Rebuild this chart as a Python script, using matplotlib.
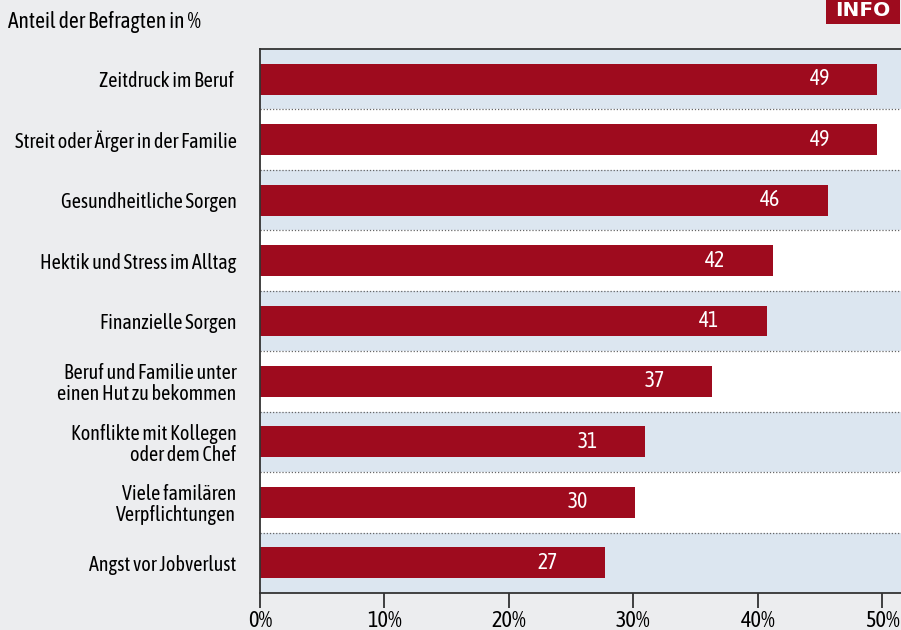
import matplotlib as mpl
import matplotlib.pyplot as plt
from matplotlib.patches import Rectangle

CATEGORIES = [
    "Zeitdruck im Beruf ",
    "Streit oder Ärger in der Familie",
    "Gesundheitliche Sorgen",
    "Hektik und Stress im Alltag",
    "Finanzielle Sorgen",
    "Beruf und Familie unter\neinen Hut zu bekommen",
    "Konflikte mit Kollegen\noder dem Chef",
    "Viele familären\nVerpflichtungen",
    "Angst vor Jobverlust",
]
BAR_VALUES = [49.6, 49.6, 45.6, 41.2, 40.7, 36.3, 30.9, 30.1, 27.7]
LABELS = ["49", "49", "46", "42", "41", "37", "31", "30", "27"]
XTICKS = [0, 10, 20, 30, 40, 50]
XTICK_LABELS = ["0%", "10%", "20%", "30%", "40%", "50%"]

RED = "#9e0b1e"
BAND = "#dce6f0"
BG = "#ecedef"

plt.rcParams['font.family'] = ['Asap Condensed', 'DejaVu Sans']

dpi = 100
fig = plt.figure(dpi=dpi, figsize=(901 / dpi, 630 / dpi), facecolor=BG)
ax = fig.add_axes([260 / 901, 37 / 630, 641 / 901, 544 / 630])
ax.set_facecolor("white")

n = len(CATEGORIES)
for i in range(n):
    if i % 2 == 0:
        ax.axhspan(i - 0.5, i + 0.5, color=BAND, zorder=0, lw=0)
for i in range(n - 1):
    ax.axhline(i + 0.5, color="#666666", lw=0.9, linestyle=(0, (1, 1.5)), zorder=1)

ys = list(range(n))
ax.barh(ys, BAR_VALUES, height=0.51, color=RED, zorder=2)
for y, v, lab in zip(ys, BAR_VALUES, LABELS):
    ax.text(v - 4.6, y, lab, color="white", fontsize=15.5, ha="center", va="center", zorder=3)

ax.set_xlim(0, 51.5)
ax.set_ylim(n - 0.5, -0.5)
ax.set_yticks(ys)
ax.set_yticklabels(CATEGORIES, fontsize=14.5, linespacing=1.05)
ax.tick_params(axis="y", length=0, pad=17)
ax.set_xticks(XTICKS)
ax.set_xticklabels(XTICK_LABELS, fontsize=16)
ax.tick_params(axis="x", length=11, width=1.2, color="#222222", pad=1)

for s in ["top", "left", "bottom"]:
    ax.spines[s].set_color("#333333")
    ax.spines[s].set_linewidth(1.3)
ax.spines["right"].set_visible(False)

fig.text(8 / 901, 1 - 22 / 630, "Anteil der Befragten in %", fontsize=15.5, ha="left", va="center")

# INFO badge
fig.patches.append(Rectangle((826 / 901, 1 - 24 / 630), 74 / 901, 24 / 630,
                             transform=fig.transFigure, fc=RED, ec="none"))
fig.text(863 / 901, 1 - 11 / 630, "INFO", fontsize=14.5, fontweight="bold", color="white",
         family="DejaVu Sans", ha="center", va="center")

fig.savefig("out.png", dpi=dpi, facecolor=BG)
